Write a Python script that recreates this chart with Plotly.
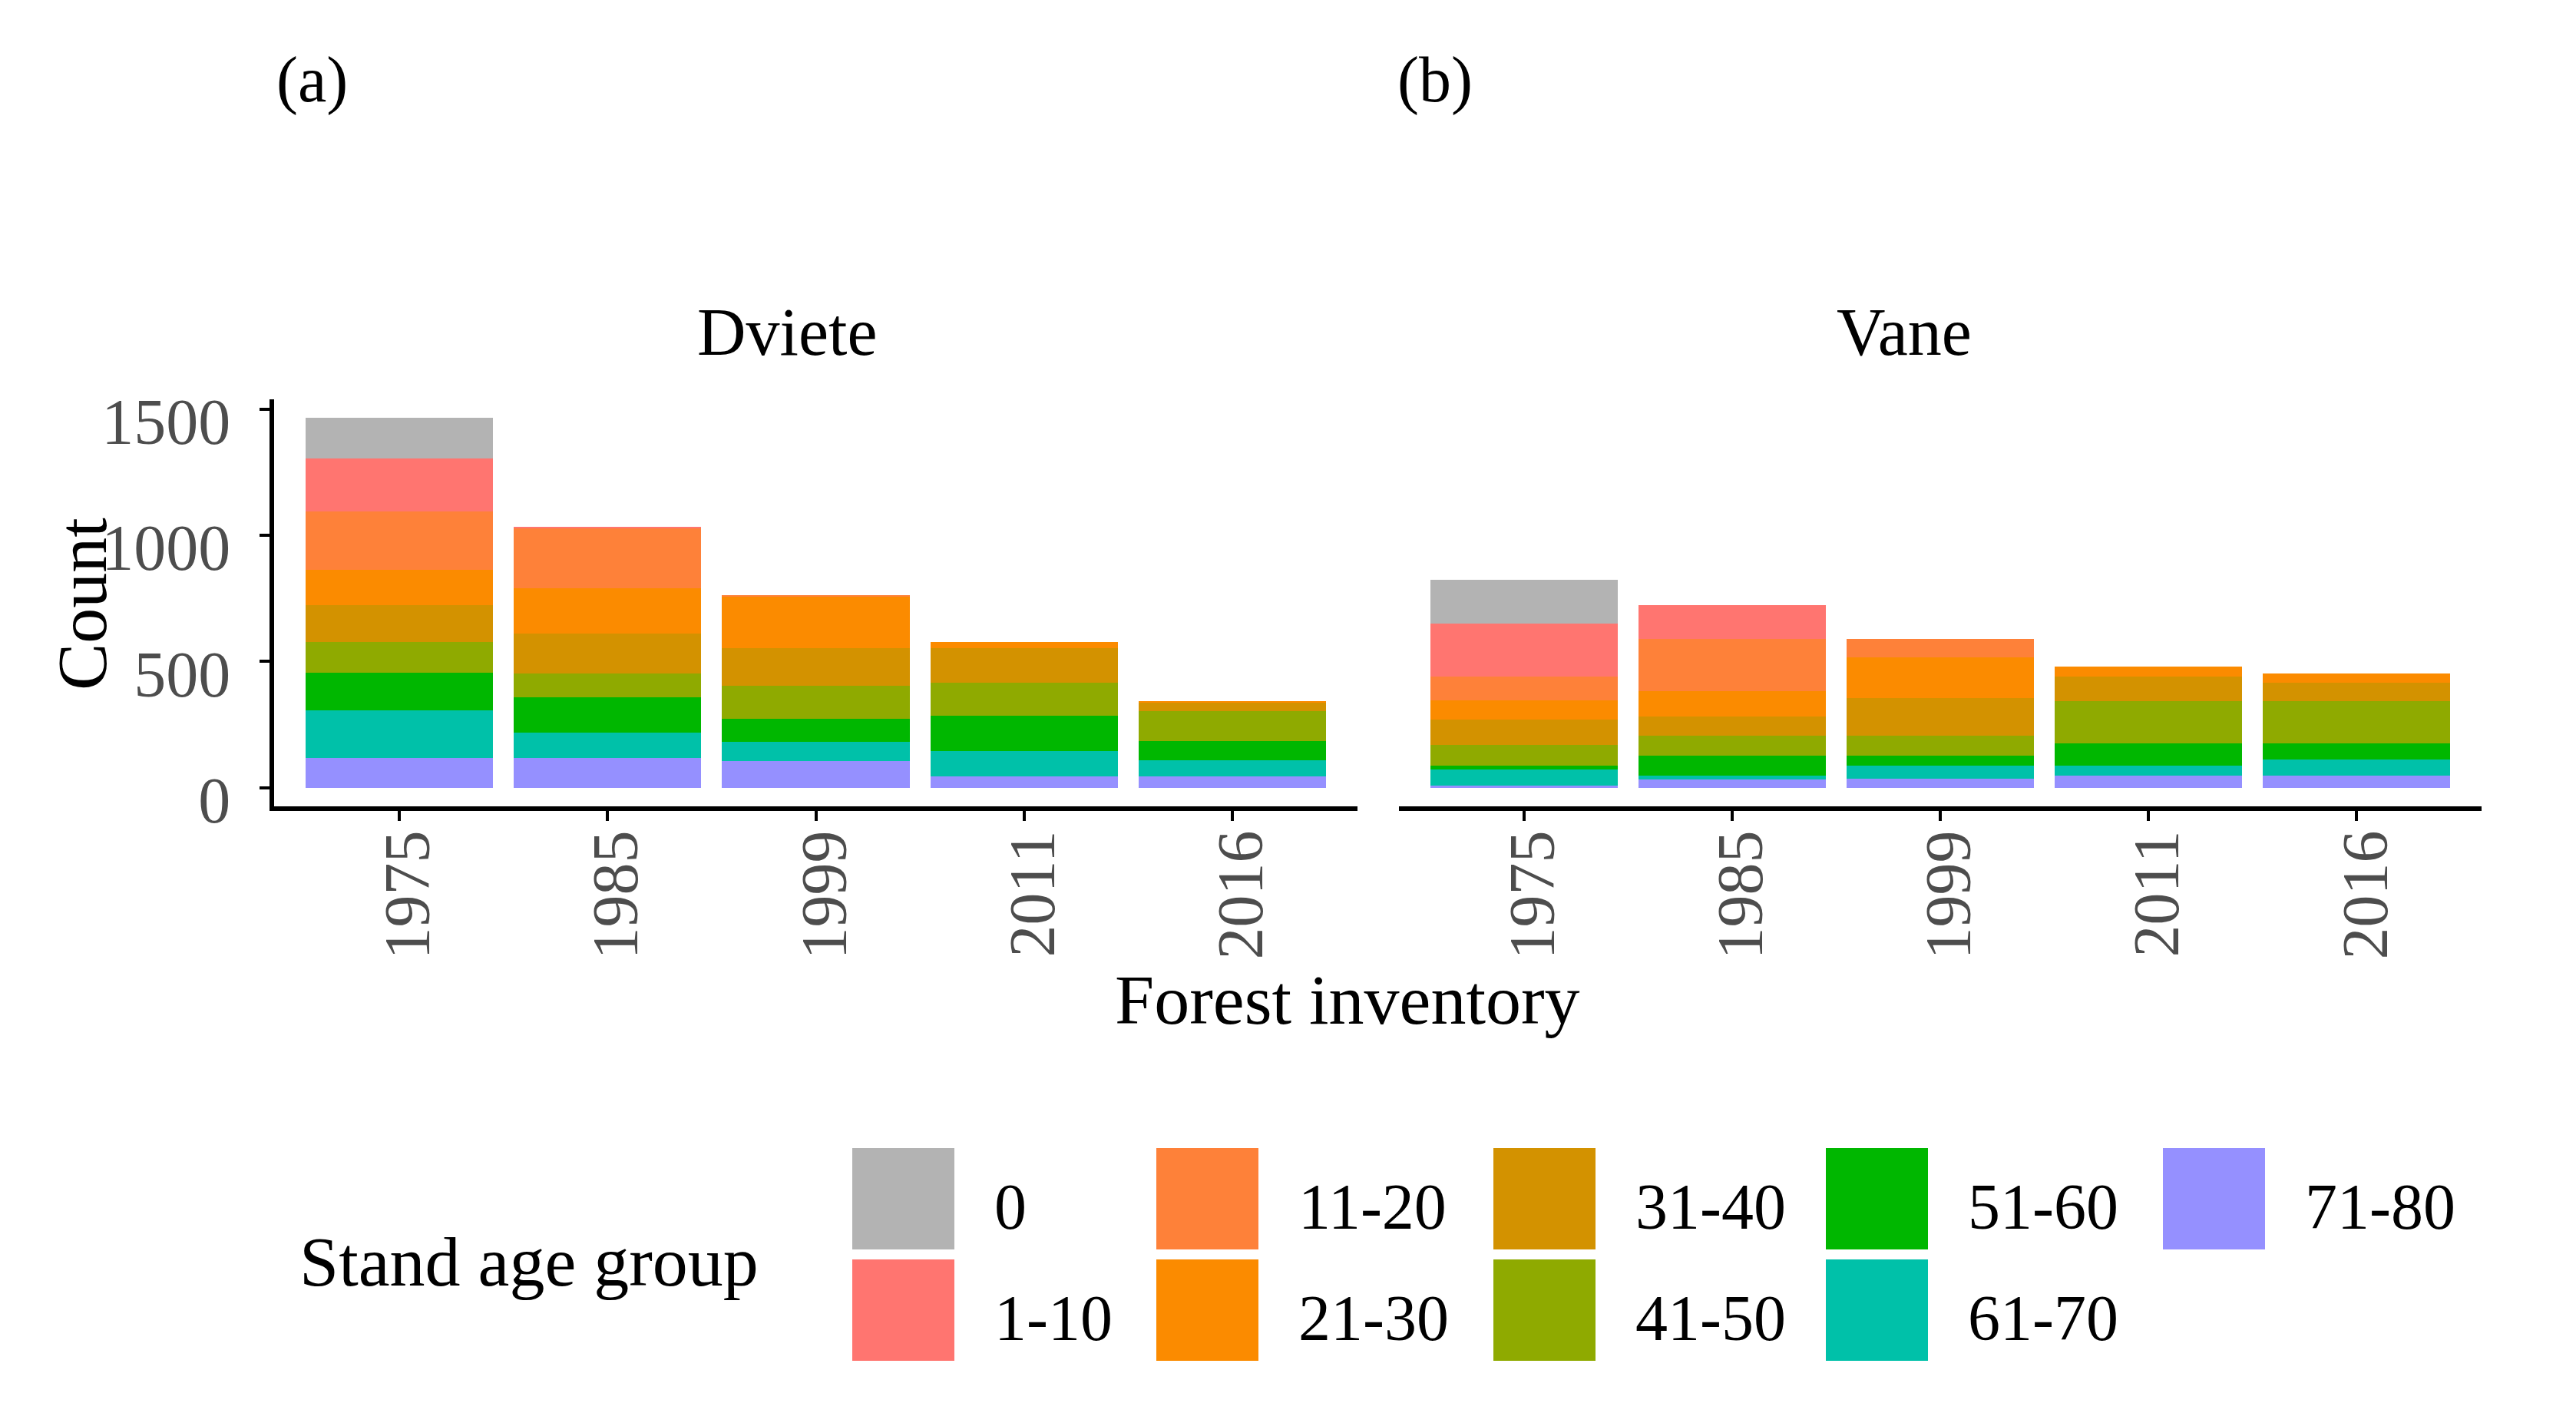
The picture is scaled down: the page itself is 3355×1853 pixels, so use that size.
import plotly.graph_objects as go

W, H = 3355, 1853
OFF = 8  # default page body margin

years = ["1975", "1985", "1999", "2011", "2016"]
groups = ["0", "1-10", "11-20", "21-30", "31-40", "41-50", "51-60", "61-70", "71-80"]
colors = ["#B3B3B3", "#FF7570", "#FE8139", "#FB8B00", "#D39200",
          "#8FAA00", "#00B700", "#00C1A9", "#9590FF"]

dviete = {
    "0":     [160, 0, 0, 0, 0],
    "1-10":  [212, 7, 0, 0, 0],
    "11-20": [230, 238, 7, 0, 0],
    "21-30": [139, 177, 204, 24, 4],
    "31-40": [148, 159, 149, 137, 35],
    "41-50": [120, 94, 131, 130, 120],
    "51-60": [150, 140, 89, 139, 77],
    "61-70": [188, 101, 78, 102, 64],
    "71-80": [118, 118, 105, 44, 44],
}
vane = {
    "0":     [173, 0, 0, 0, 0],
    "1-10":  [209, 134, 0, 0, 0],
    "11-20": [94, 206, 72, 0, 0],
    "21-30": [78, 102, 163, 39, 37],
    "31-40": [99, 75, 148, 99, 75],
    "41-50": [81, 79, 79, 166, 166],
    "51-60": [16, 79, 40, 89, 65],
    "61-70": [64, 15, 52, 39, 63],
    "71-80": [9, 33, 35, 48, 48],
}
panels = ["Dviete", "Vane"]
panel_tags = ["(a)", "(b)"]
y_ticks = [0, 500, 1000, 1500]

FONT = "Liberation Serif"


def px(x):
    return (x - OFF) / W


def py(y):
    return 1 - (y - OFF) / H


fig = go.Figure()

# stacking: first level on top -> add in reverse
for data, xa, ya in [(dviete, "x", "y"), (vane, "x2", "y2")]:
    for g, c in reversed(list(zip(groups, colors))):
        fig.add_trace(go.Bar(x=years, y=data[g], name=g, marker_color=c,
                             marker_line_width=0, xaxis=xa, yaxis=ya,
                             showlegend=False))

y_dom = [py(1050), py(520)]
y_rng = [-73.3, 1538]
tickfont = dict(family=FONT, size=84, color="#4D4D4D")

common_x = dict(type="category", range=[-0.6, 4.6], showline=True, linewidth=6,
                linecolor="black", ticks="outside", ticklen=13, tickwidth=4,
                tickcolor="black", tickangle=-90, tickfont=tickfont,
                showgrid=False, zeroline=False, ticklabelstandoff=-21,
                ticklabelshift=12, automargin=False)

fig.update_layout(
    width=W, height=H,
    margin=dict(l=0, r=0, t=0, b=0, pad=0),
    paper_bgcolor="white", plot_bgcolor="white",
    barmode="stack", bargap=0.1,
    showlegend=False,
    xaxis=dict(domain=[px(357), px(1768)], anchor="y", **common_x),
    xaxis2=dict(domain=[px(1822), px(3232)], anchor="y2", **common_x),
    yaxis=dict(domain=y_dom, range=y_rng, anchor="x", showline=True, linewidth=6,
               linecolor="black", ticks="outside", ticklen=13, tickwidth=4,
               tickcolor="black", tickvals=y_ticks, tickfont=tickfont,
               showgrid=False, zeroline=False, ticklabelstandoff=21,
               ticklabelshift=16, automargin=False),
    yaxis2=dict(domain=y_dom, range=y_rng, anchor="x2", matches="y",
                showline=False, showticklabels=False, ticks="",
                showgrid=False, zeroline=False, automargin=False),
    font=dict(family=FONT, color="black"),
)

ann = []
# strip labels
for name, cx in zip(panels, [1025, 2480]):
    ann.append(dict(text=name, x=px(cx), y=py(432), xref="paper", yref="paper",
                    showarrow=False, xanchor="center", yanchor="middle",
                    font=dict(family=FONT, size=88, color="black")))
# panel tags
for tag, lx in zip(panel_tags, [358, 1818]):
    ann.append(dict(text=tag, x=px(lx), y=py(104), xref="paper", yref="paper",
                    showarrow=False, xanchor="left", yanchor="middle",
                    font=dict(family=FONT, size=84, color="black")))
# axis titles
ann.append(dict(text="Count", x=px(107), y=py(787), xref="paper", yref="paper",
                showarrow=False, xanchor="center", yanchor="middle", textangle=-90,
                font=dict(family=FONT, size=92, color="black")))
ann.append(dict(text="Forest inventory", x=px(1755), y=py(1302), xref="paper",
                yref="paper", showarrow=False, xanchor="center", yanchor="middle",
                font=dict(family=FONT, size=92, color="black")))
# legend title
ann.append(dict(text="Stand age group", x=px(388), y=py(1643), xref="paper",
                yref="paper", showarrow=False, xanchor="left", yanchor="middle",
                font=dict(family=FONT, size=92, color="black")))

# legend keys (column-major, 2 rows)
col_left = [1110, 1506, 1945, 2378, 2817]
row_top = [1495, 1640]
key_w, key_h = 133, 132
shapes = []
for i, (g, c) in enumerate(zip(groups, colors)):
    col, row = divmod(i, 2)
    x0 = col_left[col]
    y0 = row_top[row]
    shapes.append(dict(type="rect", xref="paper", yref="paper",
                       x0=px(x0), x1=px(x0 + key_w), y0=py(y0 + key_h), y1=py(y0),
                       fillcolor=c, line=dict(width=0)))
    ann.append(dict(text=g, x=px(x0 + 183), y=py(y0 + key_h / 2 + 10),
                    xref="paper", yref="paper", showarrow=False,
                    xanchor="left", yanchor="middle",
                    font=dict(family=FONT, size=84, color="black")))

fig.update_layout(annotations=ann, shapes=shapes)
fig.write_html("out.html")
